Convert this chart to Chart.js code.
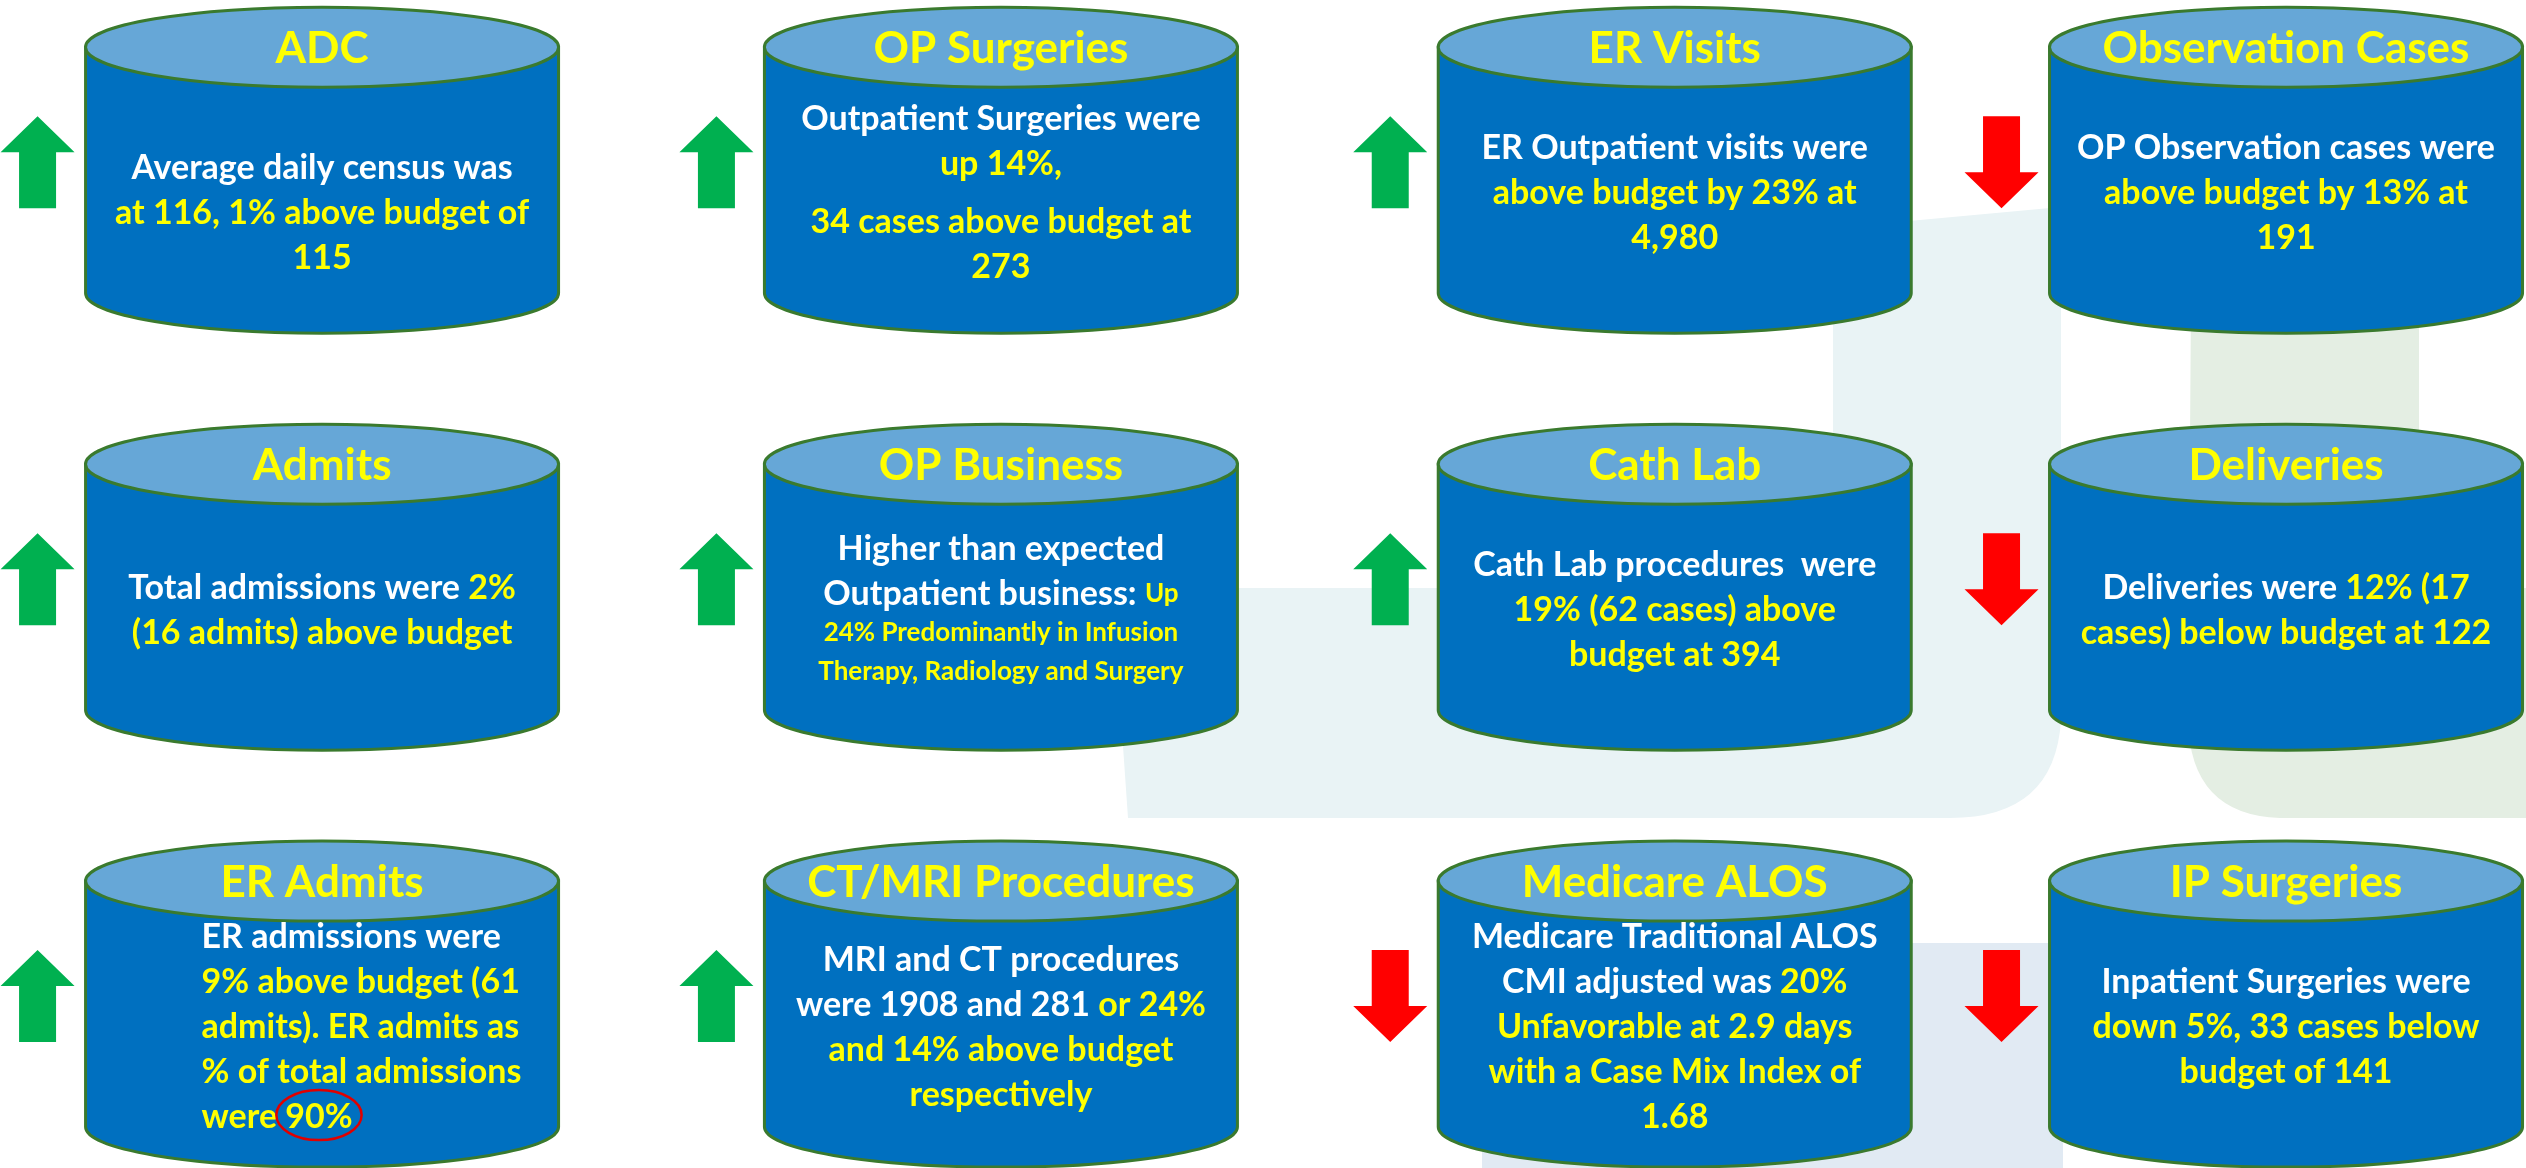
<!DOCTYPE html>
<html>
<head>
<meta charset="utf-8">
<script src="https://cdn.jsdelivr.net/npm/chart.js@4.4.0/dist/chart.umd.min.js"></script>
<style>
  html, body { margin: 0; padding: 0; background: #fff; overflow: hidden; }
  canvas { display: block; }
</style>
</head>
<body>
<canvas id="board" width="2526" height="1168"></canvas>
<script>
// ---- data ----
const TITLES = [
  'ADC', 'OP Surgeries', 'ER Visits', 'Observation Cases',
  'Admits', 'OP Business', 'Cath Lab', 'Deliveries',
  'ER Admits', 'CT/MRI Procedures', 'Medicare ALOS', 'IP Surgeries'
]
const TRENDS = ['up', 'up', 'up', 'down', 'up', 'up', 'up', 'down', 'up', 'up', 'down', 'down']
const COLS = [0, 1, 2, 3, 0, 1, 2, 3, 0, 1, 2, 3]
const ROWS = [0, 0, 0, 0, 1, 1, 1, 1, 2, 2, 2, 2]

// '|' switches the rest of the line to highlighted text, '^' = smaller text, '' = paragraph gap
const NOTES = [
  ['Average daily census was', '|at 116, 1% above budget of', '|115'],
  ['Outpatient Surgeries were', '|up 14%,', '', '|34 cases above budget at', '|273'],
  ['ER Outpatient visits were', '|above budget by 23% at', '|4,980'],
  ['OP Observation cases were', '|above budget by 13% at', '|191'],
  ['Total admissions were |2%', '|(16 admits) above budget'],
  ['Higher than expected', 'Outpatient business: |^Up', '^|24% Predominantly in Infusion', '^|Therapy, Radiology and Surgery'],
  ['Cath Lab procedures  were', '|19% (62 cases) above', '|budget at 394'],
  ['Deliveries were |12% (17', '|cases) below budget at 122'],
  ['ER admissions were', '|9% above budget (61', '|admits). ER admits as', '|% of total admissions', '|were 90%'],
  ['MRI and CT procedures', 'were 1908 and 281 |or 24%', '|and 14% above budget', '|respectively'],
  ['Medicare Traditional ALOS', 'CMI adjusted was |20%', '|Unfavorable at 2.9 days', '|with a Case Mix Index of', '|1.68'],
  ['Inpatient Surgeries were', '|down 5%, 33 cases below', '|budget of 141']
]
const CIRCLED = { card: 8, text: '90%' }

// ---- layout ----
const COL_POS = [0.51, 1.585, 2.652, 3.62]
const LEFT_ALIGNED = [8]
const TEXT_SHIFT = { 0: 20 }
const FONT = 'Lato, "Open Sans", sans-serif'
const BODY_PX = 34, SMALL_PX = 26

const C = {
  body: '#0070C0',
  top: '#66A7D7',
  edge: '#3A7A2E',
  yellow: '#FFFF00',
  white: '#FFFFFF',
  up: '#00B050',
  down: '#FF0000',
}

function drawBackdrop(ctx) {
  ctx.save()
  // faint watermark shapes behind the cards
  ctx.fillStyle = '#E9F3F5'
  ctx.beginPath()
  ctx.moveTo(1833, 228)
  ctx.lineTo(2061, 207)
  ctx.lineTo(2061, 720)
  ctx.quadraticCurveTo(2055, 818, 1950, 818)
  ctx.lineTo(1128, 818)
  ctx.lineTo(1112, 588)
  ctx.lineTo(1833, 588)
  ctx.closePath()
  ctx.fill()

  ctx.fillStyle = '#E4EEE3'
  ctx.beginPath()
  ctx.moveTo(2191, 300)
  ctx.lineTo(2419, 300)
  ctx.lineTo(2419, 588)
  ctx.lineTo(2526, 588)
  ctx.lineTo(2526, 818)
  ctx.lineTo(2280, 818)
  ctx.quadraticCurveTo(2190, 815, 2188, 720)
  ctx.closePath()
  ctx.fill()

  ctx.fillStyle = '#E1EAF3'
  ctx.fillRect(1482, 943, 581, 225)
  ctx.restore()
}

function drawCylinder(ctx, cx, top, w, h, ry) {
  const l = cx - w / 2, r = cx + w / 2, bot = top + h
  ctx.save()
  ctx.lineWidth = 3
  ctx.strokeStyle = C.edge
  ctx.fillStyle = C.body
  ctx.beginPath()
  ctx.moveTo(l, top + ry)
  ctx.lineTo(l, bot - ry)
  ctx.ellipse(cx, bot - ry, w / 2, ry, 0, Math.PI, 0, true)
  ctx.lineTo(r, top + ry)
  ctx.closePath()
  ctx.fill()
  ctx.stroke()
  ctx.fillStyle = C.top
  ctx.beginPath()
  ctx.ellipse(cx, top + ry, w / 2, ry, 0, 0, Math.PI * 2)
  ctx.fill()
  ctx.stroke()
  ctx.restore()
}

function drawArrow(ctx, x, y, dir) {
  const shaft = 37, head = 74, len = 92, headLen = 36
  const s = dir === 'up' ? -1 : 1
  const tip = y + s * len / 2, base = y - s * len / 2, neck = tip - s * headLen
  ctx.save()
  ctx.fillStyle = dir === 'up' ? C.up : C.down
  ctx.beginPath()
  ctx.moveTo(x, tip)
  ctx.lineTo(x + head / 2, neck)
  ctx.lineTo(x + shaft / 2, neck)
  ctx.lineTo(x + shaft / 2, base)
  ctx.lineTo(x - shaft / 2, base)
  ctx.lineTo(x - shaft / 2, neck)
  ctx.lineTo(x - head / 2, neck)
  ctx.closePath()
  ctx.fill()
  ctx.restore()
}

function parseLine(line) {
  let small = false
  if (line.startsWith('^')) { small = true; line = line.slice(1) }
  const i = line.indexOf('|')
  const raw = i < 0 ? [{ t: line, hi: false }]
    : [{ t: line.slice(0, i), hi: false }, { t: line.slice(i + 1), hi: true }]
  const parts = raw.filter(p => p.t !== '' || raw.length === 1).map(p => {
    let sm = small
    if (p.t.startsWith('^')) { sm = true; p.t = p.t.slice(1) }
    return { t: p.t, hi: p.hi, small: sm }
  })
  return { small, empty: line === '', parts }
}

function drawNotes(ctx, idx, cx, left, midY) {
  const lines = NOTES[idx].map(parseLine)
  const lh = 45, gap = 13, smallLh = 39
  const step = ln => ln.empty ? gap : (ln.small ? smallLh : lh)
  let total = 0
  lines.forEach((ln, k) => { if (k > 0) total += step(ln) })
  let y = midY - total / 2
  ctx.save()
  ctx.textBaseline = 'middle'
  ctx.textAlign = 'left'
  lines.forEach((ln, k) => {
    if (k > 0) y += step(ln)
    if (ln.empty) return
    const fonts = ln.parts.map(p => `700 ${p.small ? SMALL_PX : BODY_PX}px ${FONT}`)
    const widths = ln.parts.map((p, j) => { ctx.font = fonts[j]; return ctx.measureText(p.t).width })
    const full = widths.reduce((a, b) => a + b, 0)
    let x = LEFT_ALIGNED.includes(idx) ? left : cx - full / 2
    ln.parts.forEach((p, j) => {
      ctx.font = fonts[j]
      ctx.fillStyle = p.hi ? C.yellow : C.white
      ctx.fillText(p.t, x, y)
      if (CIRCLED.card === idx && k === lines.length - 1 && p.t.endsWith(CIRCLED.text)) {
        const tw = ctx.measureText(CIRCLED.text).width
        const ex = x + widths[j] - tw / 2
        ctx.strokeStyle = '#E00000'
        ctx.lineWidth = 2.5
        ctx.beginPath()
        ctx.ellipse(ex, y - 2, tw / 2 + 9, 25, 0, 0, Math.PI * 2)
        ctx.stroke()
      }
      x += widths[j]
    })
  })
  ctx.restore()
}

const cylinderPlugin = {
  id: 'cylinders',
  beforeDraw(chart) {
    const { ctx } = chart
    ctx.save()
    ctx.fillStyle = '#FFFFFF'
    ctx.fillRect(0, 0, chart.width, chart.height)
    ctx.restore()
    drawBackdrop(ctx)
  },
  afterDatasetsDraw(chart) {
    const { ctx } = chart
    const meta = chart.getDatasetMeta(0)
    const W = 473, H = 326, RY = 40
    meta.data.forEach((pt, i) => {
      const cx = pt.x, cy = pt.y
      const top = cy - H / 2
      drawCylinder(ctx, cx, top, W, H, RY)
      drawArrow(ctx, cx - W / 2 - 48, top + 155, TRENDS[i])

      ctx.save()
      ctx.font = `700 44px ${FONT}`
      ctx.fillStyle = C.yellow
      ctx.textAlign = 'center'
      ctx.textBaseline = 'middle'
      ctx.fillText(TITLES[i], cx, top + RY + 2)
      ctx.restore()

      drawNotes(ctx, i, cx, cx - W / 2 + 116, top + 186 + (TEXT_SHIFT[i] || 0))
    })
  }
}

new Chart(document.getElementById('board'), {
  type: 'scatter',
  data: {
    labels: TITLES,
    datasets: [{
      data: TITLES.map((t, i) => ({ x: COL_POS[COLS[i]], y: ROWS[i] })),
      pointRadius: 0,
      pointHoverRadius: 0,
    }]
  },
  options: {
    responsive: false,
    devicePixelRatio: 1,
    animation: false,
    events: [],
    layout: { padding: 0 },
    scales: {
      x: { type: 'linear', min: 0, max: 4, display: false },
      y: { type: 'linear', min: -0.408, max: 2.393, reverse: true, display: false }
    },
    plugins: {
      legend: { display: false },
      tooltip: { enabled: false }
    }
  },
  plugins: [cylinderPlugin]
})
</script>
</body>
</html>
